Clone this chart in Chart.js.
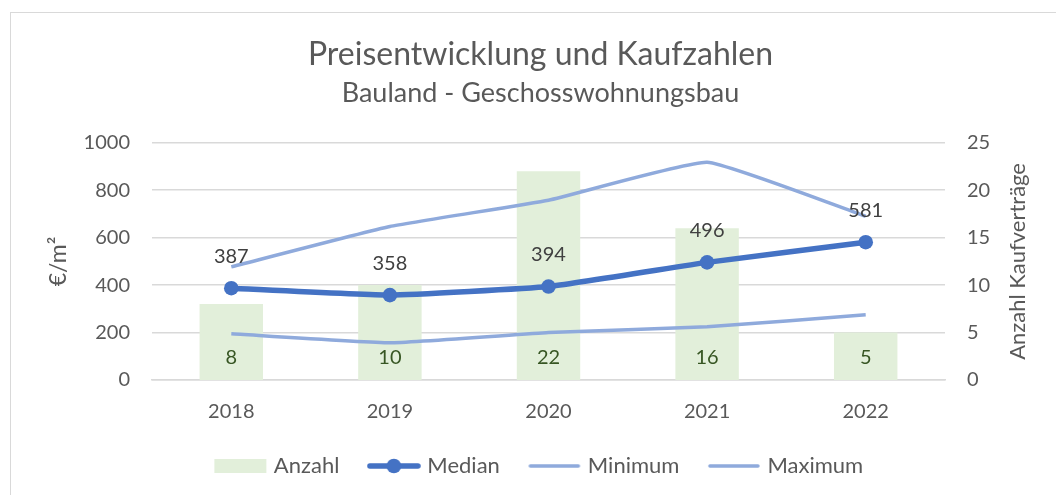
<!DOCTYPE html>
<html>
<head>
<meta charset="utf-8">
<script src="https://cdn.jsdelivr.net/npm/chart.js@4/dist/chart.umd.min.js"></script>
<style>
  html, body { margin: 0; padding: 0; background: #fff; }
  #wrap { position: relative; width: 1056px; height: 495px; overflow: hidden; }
  #frame { position: absolute; left: 10px; top: 12px; width: 1060px; height: 500px; border: 1px solid #D9D9D9; box-sizing: border-box; }
  canvas { position: absolute; left: 0; top: 0; }
</style>
</head>
<body>
<div id="wrap">
  <div id="frame"></div>
  <canvas id="c" width="1056" height="495"></canvas>
</div>
<script>
const categories = ['2018', '2019', '2020', '2021', '2022'];
const anzahl = [8, 10, 22, 16, 5];
const median = [387, 358, 394, 496, 581];
const minimum = [195, 157, 200, 224, 275];
const maximum = [477, 647, 758, 918, 690];
const leftTicks = [0, 200, 400, 600, 800, 1000];
const rightTicks = [0, 5, 10, 15, 20, 25];

const FONT = 'Lato';
const TXT = '#595959';
const barColor = '#E2EFDA';
const medianColor = '#4472C4';
const minmaxColor = '#8FAADC';

function legendIcon(kind) {
  const c = document.createElement('canvas');
  c.width = 54; c.height = 16;
  const g = c.getContext('2d');
  if (kind === 'bar') {
    g.fillStyle = barColor;
    g.fillRect(1, 1, 52, 14);
  } else if (kind === 'median') {
    g.strokeStyle = medianColor; g.lineWidth = 5.5; g.lineCap = 'round';
    g.beginPath(); g.moveTo(3, 8); g.lineTo(51, 8); g.stroke();
    g.fillStyle = medianColor;
    g.beginPath(); g.arc(27, 8, 7.3, 0, Math.PI * 2); g.fill();
  } else {
    g.strokeStyle = minmaxColor; g.lineWidth = 3.5; g.lineCap = 'round';
    g.beginPath(); g.moveTo(3, 8); g.lineTo(51, 8); g.stroke();
  }
  return c;
}
const icons = [legendIcon('bar'), legendIcon('median'), legendIcon('line'), legendIcon('line')];

const labelPlugin = {
  id: 'valueLabels',
  afterDatasetsDraw(chart) {
    const ctx = chart.ctx;
    ctx.save();
    ctx.textAlign = 'center';
    ctx.textBaseline = 'middle';
    ctx.font = '20px ' + FONT;
    const barMeta = chart.getDatasetMeta(0);
    ctx.fillStyle = '#375623';
    barMeta.data.forEach((el, i) => {
      ctx.fillText(String(anzahl[i]), el.x, el.base - 22);
    });
    const medMeta = chart.getDatasetMeta(1);
    ctx.fillStyle = '#404040';
    medMeta.data.forEach((el, i) => {
      ctx.fillText(String(median[i]), el.x, el.y - 32);
    });
    // right axis title, reading bottom-to-top
    ctx.translate(1018, (chart.chartArea.top + chart.chartArea.bottom) / 2);
    ctx.rotate(-Math.PI / 2);
    ctx.fillStyle = TXT;
    ctx.font = '22px ' + FONT;
    ctx.fillText('Anzahl Kaufverträge', 0, 0);
    ctx.restore();
  }
};

new Chart(document.getElementById('c'), {
  type: 'bar',
  data: {
    labels: categories,
    datasets: [
      { type: 'bar', label: 'Anzahl', data: anzahl, yAxisID: 'y1', backgroundColor: barColor,
        categoryPercentage: 1, barPercentage: 0.4, order: 3 },
      { type: 'line', label: 'Median', data: median, yAxisID: 'y', borderColor: medianColor,
        backgroundColor: medianColor, borderWidth: 5.5, pointRadius: 7.3, pointHoverRadius: 7.3,
        pointBackgroundColor: medianColor, pointBorderWidth: 0, tension: 0.12, order: 0 },
      { type: 'line', label: 'Minimum', data: minimum, yAxisID: 'y', borderColor: minmaxColor,
        borderWidth: 3.5, pointRadius: 0, tension: 0.12, order: 1 },
      { type: 'line', label: 'Maximum', data: maximum, yAxisID: 'y', borderColor: minmaxColor,
        borderWidth: 3.5, pointRadius: 0, tension: 0.12, order: 1 }
    ]
  },
  options: {
    responsive: false,
    animation: false,
    layout: { padding: { left: 25, right: 0, top: 0, bottom: 8 } },
    plugins: {
      title: { display: true, text: 'Preisentwicklung und Kaufzahlen', color: TXT,
        font: { family: FONT, size: 32, weight: 'normal' }, padding: { top: 35, bottom: 4 } },
      subtitle: { display: true, text: 'Bauland - Geschosswohnungsbau', color: TXT,
        font: { family: FONT, size: 27, weight: 'normal' }, padding: { top: 0, bottom: 33 } },
      legend: {
        position: 'bottom',
        labels: {
          color: TXT, font: { family: FONT, size: 22 },
          usePointStyle: true, pointStyleWidth: 45, boxHeight: 16, padding: 32,
          generateLabels(chart) {
            return chart.data.datasets.map((ds, i) => ({
              text: ds.label, pointStyle: icons[i], datasetIndex: i,
              fontColor: TXT, lineWidth: 0, strokeStyle: 'transparent', fillStyle: 'transparent'
            }));
          }
        }
      },
      tooltip: { enabled: false }
    },
    scales: {
      x: {
        grid: { display: false, drawTicks: false },
        border: { display: true, color: '#D9D9D9', width: 1.5 },
        ticks: { color: TXT, font: { family: FONT, size: 20 }, padding: 20 },
        afterFit(s) { s.height = 43; }
      },
      y: {
        position: 'left', min: 0, max: 1000,
        afterBuildTicks(s) { s.ticks = leftTicks.map(v => ({ value: v })); },
        ticks: { color: TXT, font: { family: FONT, size: 20 }, padding: 22, callback: v => String(v) },
        grid: { color: '#D9D9D9', lineWidth: 1.5, drawTicks: false },
        border: { display: false },
        title: { display: true, text: '€/m²', color: TXT, font: { family: FONT, size: 23 }, padding: { top: 20, bottom: 0 } },
        afterFit(s) { s.width = 127; }
      },
      y1: {
        position: 'right', min: 0, max: 25,
        afterBuildTicks(s) { s.ticks = rightTicks.map(v => ({ value: v })); },
        ticks: { color: TXT, font: { family: FONT, size: 20 }, padding: 22, callback: v => String(v) },
        grid: { display: false, drawTicks: false },
        border: { display: false },
        afterFit(s) { s.width = 111; }
      }
    }
  },
  plugins: [labelPlugin]
});
</script>
</body>
</html>
